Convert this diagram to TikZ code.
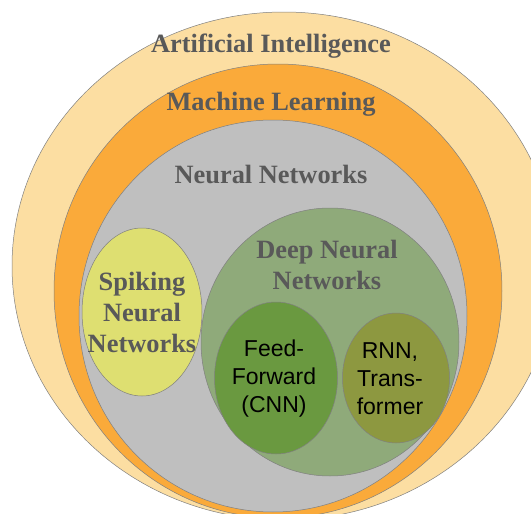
\documentclass[tikz,border=0pt]{standalone}
\usepackage{fontspec}
\setmainfont{Liberation Serif}
\setsansfont{Liberation Sans}
\usepackage{xcolor}
\usetikzlibrary{shapes.geometric,positioning}

\definecolor{aicol}{RGB}{252,222,162}
\definecolor{mlcol}{RGB}{250,170,58}
\definecolor{nncol}{RGB}{191,191,191}
\definecolor{snncol}{RGB}{222,223,113}
\definecolor{dnncol}{RGB}{143,170,122}
\definecolor{ffncol}{RGB}{106,153,64}
\definecolor{rnncol}{RGB}{141,152,64}
\definecolor{titlecol}{RGB}{89,89,89}

\begin{document}
\begin{tikzpicture}[x=1pt, y=-1pt,
  set/.style={draw=black!50, line width=0.5pt, ellipse, inner sep=0pt},
  title/.style={text=titlecol, align=center, font=\fontsize{26.4}{31}\selectfont\bfseries},
  kind/.style={text=black, align=center, font=\fontsize{23}{28}\selectfont\sffamily}]
  \useasboundingbox (0,0) rectangle (531,514);
  \clip (0,0) rectangle (531,514);

  \node[set, fill=aicol, minimum width=544pt, minimum height=508pt] (ai) at (284,266) {};
  \node[set, fill=mlcol, minimum width=448pt, minimum height=454pt] (ml) at (278,291) {};
  \node[set, fill=nncol, minimum width=388pt, minimum height=392pt] (nn) at (273,316) {};
  \node[set, fill=snncol, minimum width=120pt, minimum height=168pt] (snn) at (142,312) {};
  \node[set, fill=dnncol, minimum width=258pt, minimum height=268pt] (dnn) at (330,342) {};
  \node[set, fill=ffncol, minimum width=123pt, minimum height=152pt] (ffn) at (276,378) {};
  \node[set, fill=rnncol, minimum width=107pt, minimum height=130pt] (rnn) at (396,378) {};

  \node[title] (ai-label) at (271,46) {Artificial Intelligence};
  \node[title] (ml-label) at (271,104) {Machine Learning};
  \node[title] (nn-label) at (271,175) {Neural Networks};
  \node[title] (snn-label) at (142,312) {Spiking\\Neural\\Networks};
  \node[title] (dnn-label) at (327,265) {Deep Neural\\Networks};
  \node[kind] (ffn-label) at (274,379) {Feed-\\Forward\\(CNN)};
  \node[kind] (rnn-label) at (390,379) {RNN,\\Trans-\\former};
\end{tikzpicture}
\end{document}
